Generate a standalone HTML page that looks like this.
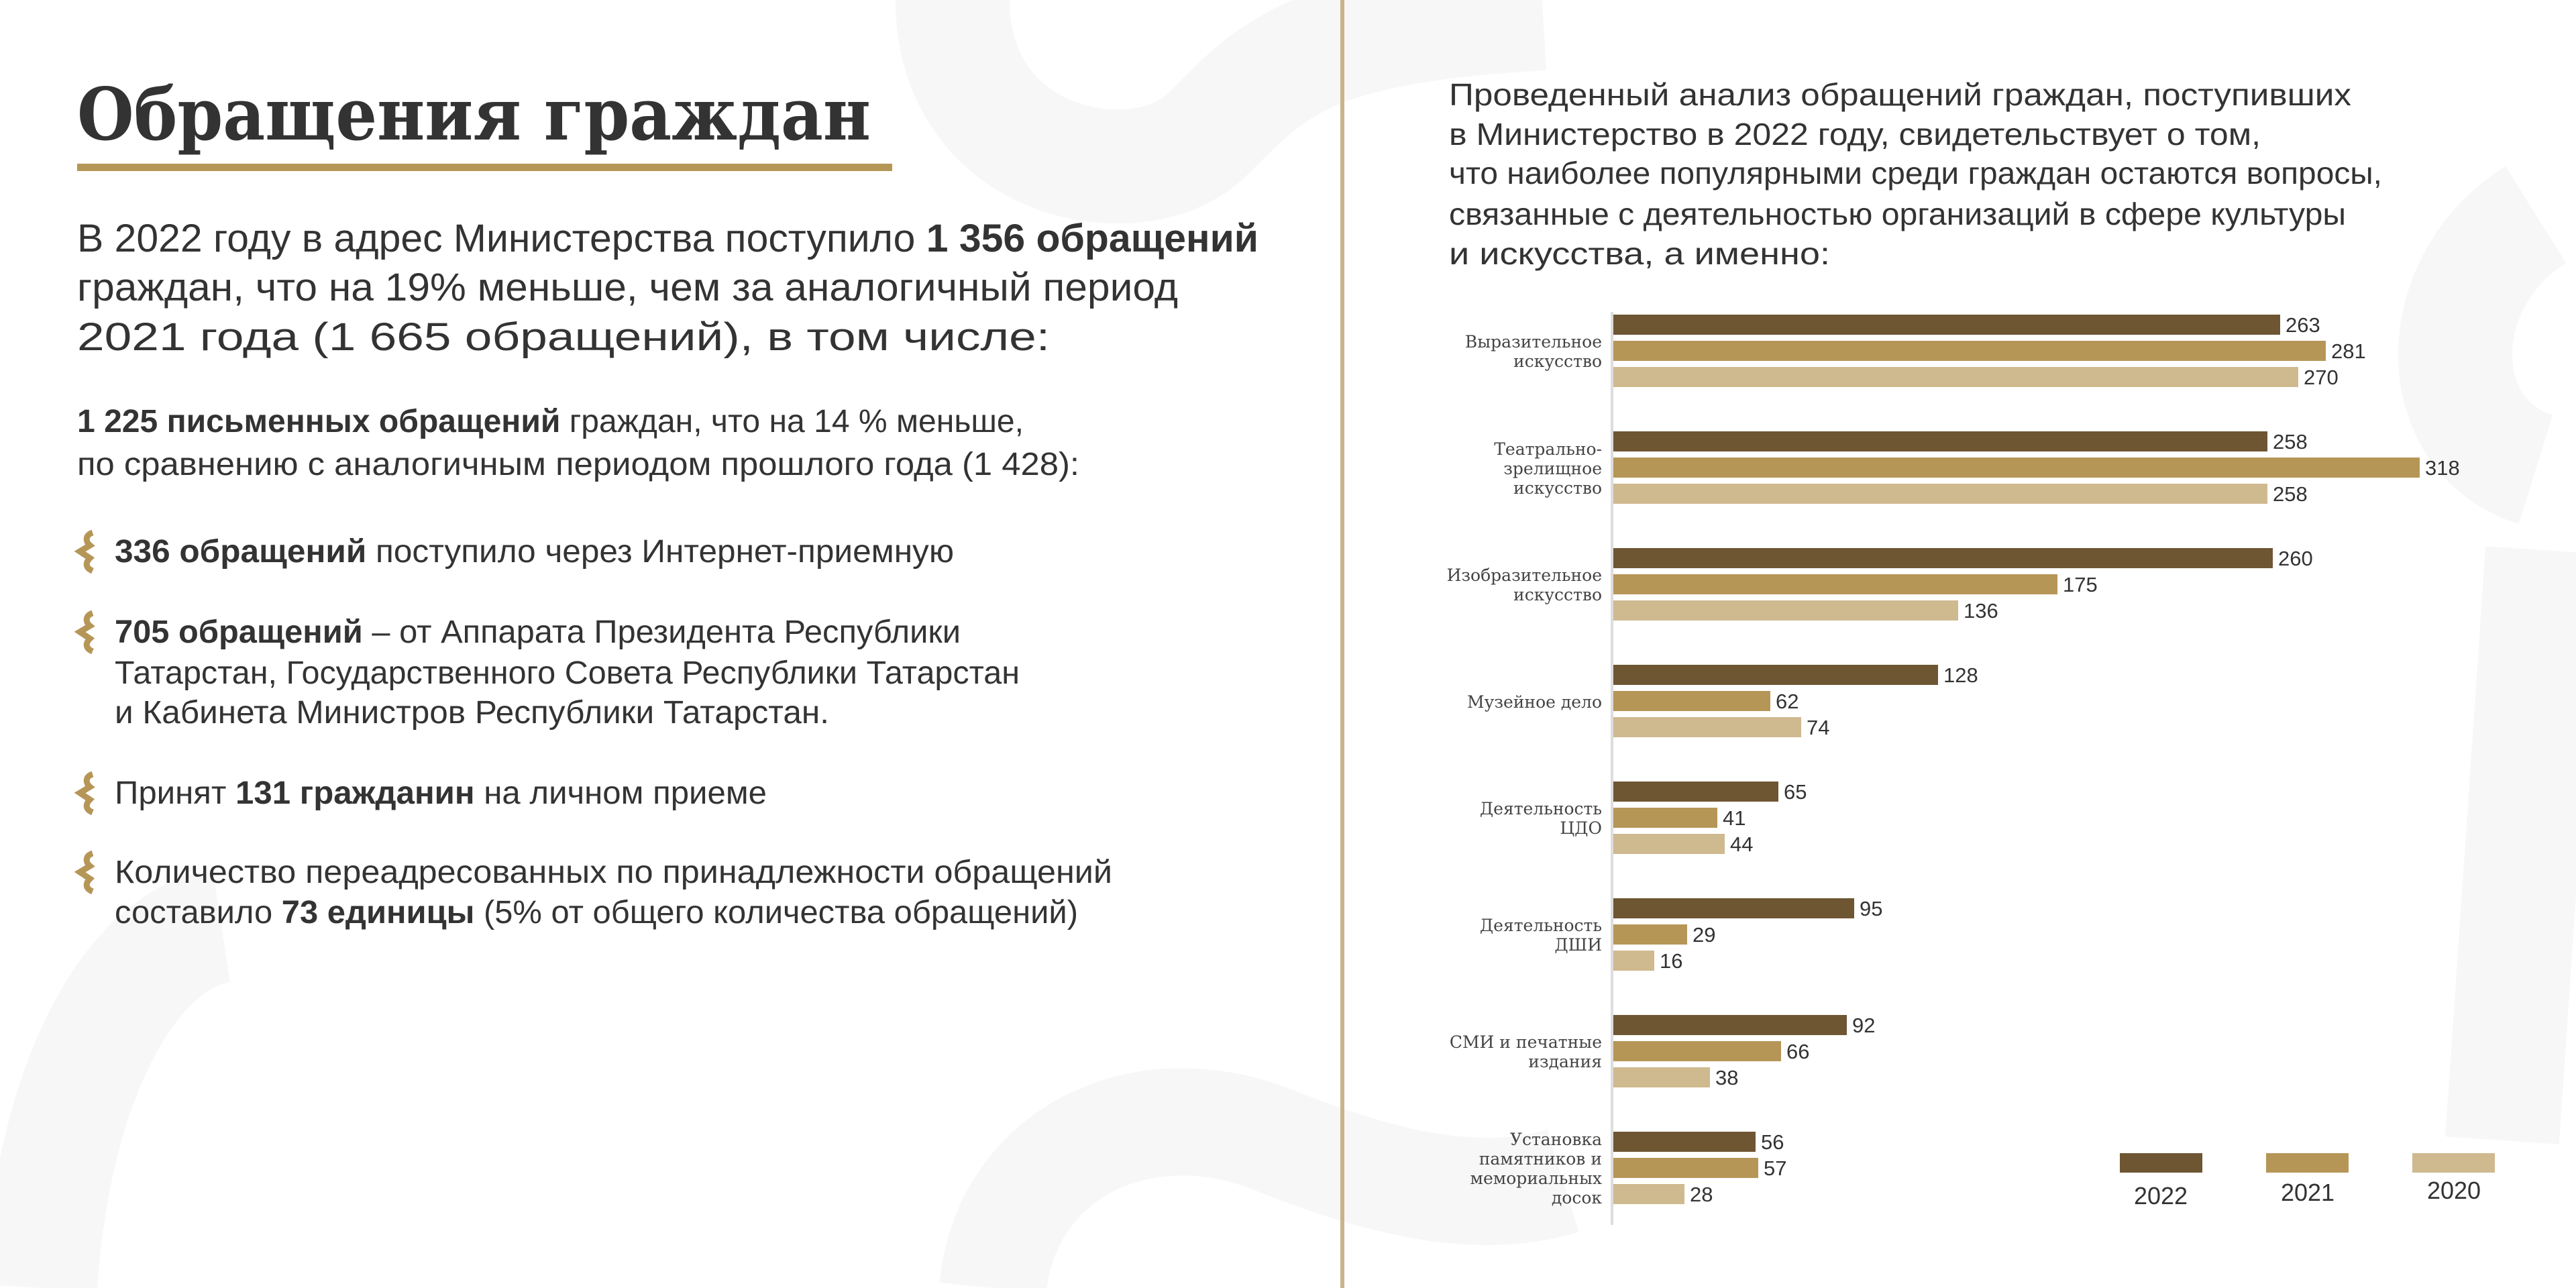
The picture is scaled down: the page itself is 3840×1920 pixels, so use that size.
<!DOCTYPE html>
<html><head><meta charset="utf-8"><style>
html,body{margin:0;padding:0;background:#fff;}
svg{display:block;}
.s{font-family:"Liberation Sans","Noto Sans CJK SC",sans-serif;fill:#333;}
.b{font-weight:bold;}
.cat{font-family:"DejaVu Serif","Liberation Serif",serif;fill:#444;font-size:25px;text-anchor:end;}
.v{font-family:"Liberation Sans Narrow","Liberation Sans",sans-serif;fill:#333;font-size:31px;}
</style></head><body>
<svg width="3840" height="1920" viewBox="0 0 3840 1920" xmlns="http://www.w3.org/2000/svg">
<g fill="none" stroke="#f7f7f7" stroke-linecap="butt">
<path d="M1420 0 C1420 250 1700 300 1800 200 C1900 100 1950 40 2300 20" stroke-width="170"/>
<path d="M3780 320 C3620 420 3620 650 3780 700 M3790 820 L3730 1700" stroke-width="170"/>
<path d="M60 1920 C80 1600 200 1400 330 1380" stroke-width="170"/>
<path d="M1480 1920 C1500 1720 1700 1620 1900 1700 C2050 1760 2200 1800 2330 1760" stroke-width="160"/>
</g>
<rect x="1998" y="0" width="6" height="1920" fill="#c9b48a"/>
<text x="115" y="208" class="b" font-family="DejaVu Serif,Liberation Serif,serif" font-size="108" fill="#333" textLength="1183" lengthAdjust="spacingAndGlyphs">Обращения граждан</text>
<rect x="115" y="244" width="1215" height="11" fill="#b69657"/>
<g class="s" font-size="58">
<text x="115" y="375" textLength="1761" lengthAdjust="spacingAndGlyphs">В 2022 году в адрес Министерства поступило <tspan class="b">1 356 обращений</tspan></text>
<text x="115" y="448" textLength="1641" lengthAdjust="spacingAndGlyphs">граждан, что на 19% меньше, чем за аналогичный период</text>
<text x="115" y="522" textLength="1450" lengthAdjust="spacingAndGlyphs">2021 года (1 665 обращений), в том числе:</text>
</g>
<g class="s" font-size="48">
<text x="115" y="644" textLength="1411" lengthAdjust="spacingAndGlyphs"><tspan class="b">1 225 письменных обращений</tspan> граждан, что на 14 % меньше,</text>
<text x="115" y="708" textLength="1494" lengthAdjust="spacingAndGlyphs">по сравнению с аналогичным периодом прошлого года (1 428):</text>
<text x="171" y="838" textLength="1251" lengthAdjust="spacingAndGlyphs"><tspan class="b">336 обращений</tspan> поступило через Интернет-приемную</text>
<text x="171" y="958" textLength="1261" lengthAdjust="spacingAndGlyphs"><tspan class="b">705 обращений</tspan> – от Аппарата Президента Республики</text>
<text x="171" y="1019" textLength="1349" lengthAdjust="spacingAndGlyphs">Татарстан, Государственного Совета Республики Татарстан</text>
<text x="171" y="1078" textLength="1065" lengthAdjust="spacingAndGlyphs">и Кабинета Министров Республики Татарстан.</text>
<text x="171" y="1198" textLength="972" lengthAdjust="spacingAndGlyphs">Принят <tspan class="b">131 гражданин</tspan> на личном приеме</text>
<text x="171" y="1316" textLength="1487" lengthAdjust="spacingAndGlyphs">Количество переадресованных по принадлежности обращений</text>
<text x="171" y="1376" textLength="1436" lengthAdjust="spacingAndGlyphs">составило <tspan class="b">73 единицы</tspan> (5% от общего количества обращений)</text>
</g>
<g fill="none" stroke="#b69657" stroke-width="9">
<path id="ic" d="M138 794 C126 798 128 808 134 813 L119 822 L134 832 C128 838 126 846 138 851"/>
<use href="#ic" y="120"/>
<use href="#ic" y="360"/>
<use href="#ic" y="478"/>
</g>
<g class="s" font-size="46">
<text x="2160" y="157" textLength="1345" lengthAdjust="spacingAndGlyphs">Проведенный анализ обращений граждан, поступивших</text>
<text x="2160" y="216" textLength="1210" lengthAdjust="spacingAndGlyphs">в Министерство в 2022 году, свидетельствует о том,</text>
<text x="2160" y="274" textLength="1391" lengthAdjust="spacingAndGlyphs">что наиболее популярными среди граждан остаются вопросы,</text>
<text x="2160" y="335" textLength="1337" lengthAdjust="spacingAndGlyphs">связанные с деятельностью организаций в сфере культуры</text>
<text x="2160" y="394" textLength="568" lengthAdjust="spacingAndGlyphs">и искусства, а именно:</text>
</g>
<rect x="2401" y="465" width="4" height="1361" fill="#ddd"/>
<g>
<rect x="2405" y="469" width="994" height="30" fill="#6e5633"/><rect x="2405" y="508" width="1062" height="30" fill="#b69657"/><rect x="2405" y="547" width="1021" height="30" fill="#cfb98f"/>
<rect x="2405" y="643" width="975" height="30" fill="#6e5633"/><rect x="2405" y="682" width="1202" height="30" fill="#b69657"/><rect x="2405" y="721" width="975" height="30" fill="#cfb98f"/>
<rect x="2405" y="817" width="983" height="30" fill="#6e5633"/><rect x="2405" y="856" width="662" height="30" fill="#b69657"/><rect x="2405" y="895" width="514" height="30" fill="#cfb98f"/>
<rect x="2405" y="991" width="484" height="30" fill="#6e5633"/><rect x="2405" y="1030" width="234" height="30" fill="#b69657"/><rect x="2405" y="1069" width="280" height="30" fill="#cfb98f"/>
<rect x="2405" y="1165" width="246" height="30" fill="#6e5633"/><rect x="2405" y="1204" width="155" height="30" fill="#b69657"/><rect x="2405" y="1243" width="166" height="30" fill="#cfb98f"/>
<rect x="2405" y="1339" width="359" height="30" fill="#6e5633"/><rect x="2405" y="1378" width="110" height="30" fill="#b69657"/><rect x="2405" y="1417" width="61" height="30" fill="#cfb98f"/>
<rect x="2405" y="1513" width="348" height="30" fill="#6e5633"/><rect x="2405" y="1552" width="250" height="30" fill="#b69657"/><rect x="2405" y="1591" width="144" height="30" fill="#cfb98f"/>
<rect x="2405" y="1687" width="212" height="30" fill="#6e5633"/><rect x="2405" y="1726" width="216" height="30" fill="#b69657"/><rect x="2405" y="1765" width="106" height="30" fill="#cfb98f"/>
</g>
<g class="v">
<text x="3407" y="495">263</text><text x="3475" y="534">281</text><text x="3434" y="573">270</text>
<text x="3388" y="669">258</text><text x="3615" y="708">318</text><text x="3388" y="747">258</text>
<text x="3396" y="843">260</text><text x="3075" y="882">175</text><text x="2927" y="921">136</text>
<text x="2897" y="1017">128</text><text x="2647" y="1056">62</text><text x="2693" y="1095">74</text>
<text x="2659" y="1191">65</text><text x="2568" y="1230">41</text><text x="2579" y="1269">44</text>
<text x="2772" y="1365">95</text><text x="2523" y="1404">29</text><text x="2474" y="1443">16</text>
<text x="2761" y="1539">92</text><text x="2663" y="1578">66</text><text x="2557" y="1617">38</text>
<text x="2625" y="1713">56</text><text x="2629" y="1752">57</text><text x="2519" y="1791">28</text>
</g>
<g class="cat">
<text x="2388" y="518">Выразительное</text><text x="2388" y="547">искусство</text>
<text x="2388" y="678">Театрально-</text><text x="2388" y="707">зрелищное</text><text x="2388" y="736">искусство</text>
<text x="2388" y="866">Изобразительное</text><text x="2388" y="895">искусство</text>
<text x="2388" y="1055">Музейное дело</text>
<text x="2388" y="1214">Деятельность</text><text x="2388" y="1243">ЦДО</text>
<text x="2388" y="1388">Деятельность</text><text x="2388" y="1417">ДШИ</text>
<text x="2388" y="1562">СМИ и печатные</text><text x="2388" y="1591">издания</text>
<text x="2388" y="1707">Установка</text><text x="2388" y="1736">памятников и</text><text x="2388" y="1765">мемориальных</text><text x="2388" y="1794">досок</text>
</g>
<rect x="3160" y="1719" width="123" height="29" fill="#6e5633"/>
<rect x="3378" y="1719" width="123" height="29" fill="#b69657"/>
<rect x="3596" y="1719" width="123" height="29" fill="#cfb98f"/>
<g font-family="Liberation Sans,sans-serif" font-size="36" fill="#333" text-anchor="middle">
<text x="3221" y="1795">2022</text><text x="3440" y="1790">2021</text><text x="3658" y="1787">2020</text>
</g>
</svg>
</body></html>
